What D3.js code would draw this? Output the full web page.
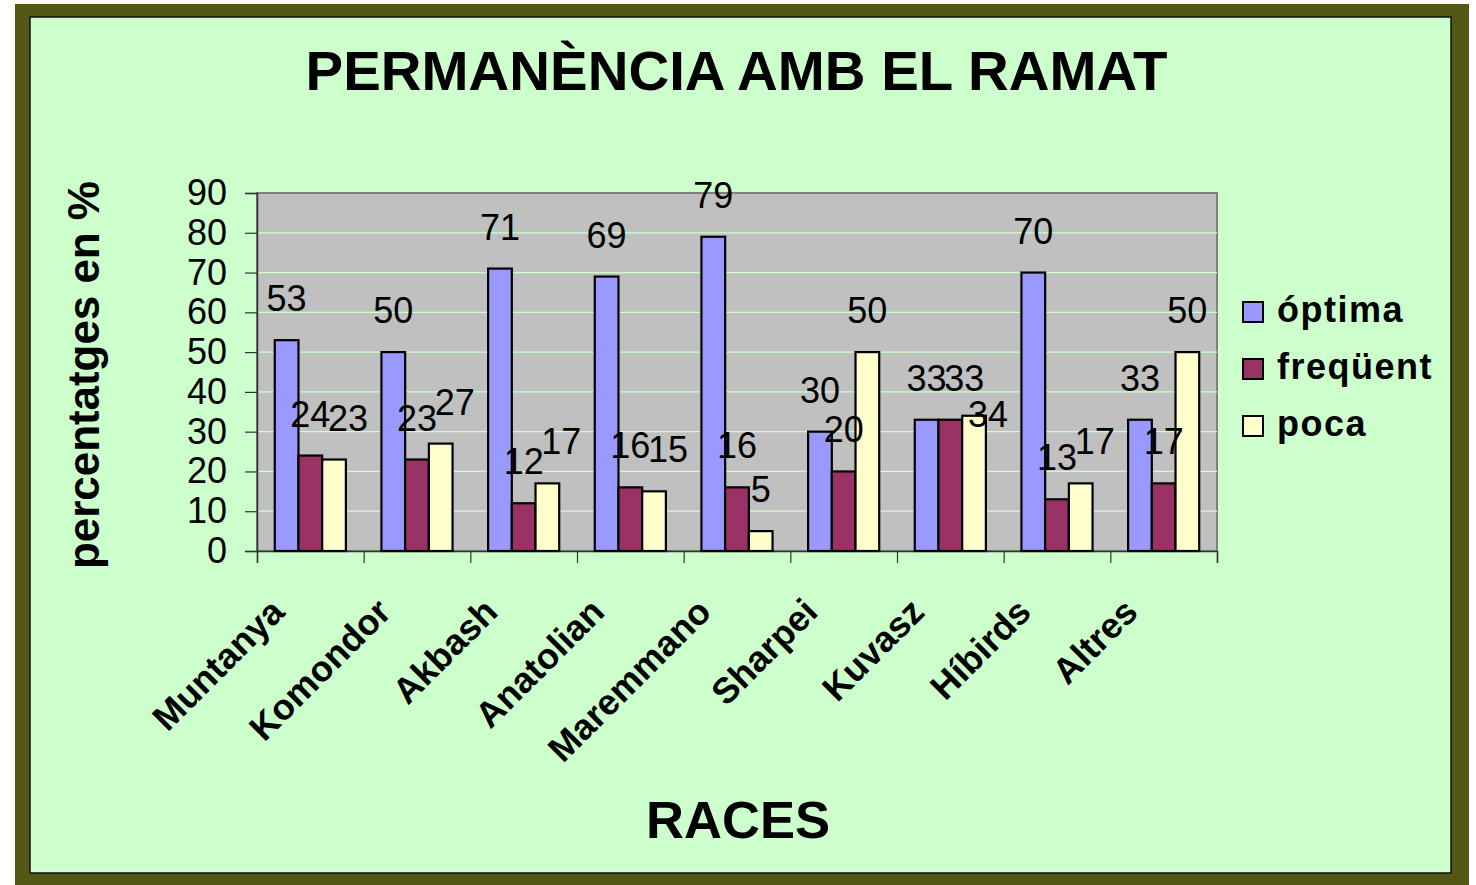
<!DOCTYPE html>
<html>
<head>
<meta charset="utf-8">
<script src="https://cdn.jsdelivr.net/npm/d3@7"></script>
<style>
  body { margin: 0; background: #ffffff; }
  svg { display: block; font-family: "Liberation Sans", Arial, sans-serif; }
</style>
</head>
<body>
<svg id="chart" width="1476" height="885"></svg>
<script>
// data
const categories = ['Muntanya', 'Komondor', 'Akbash', 'Anatolian', 'Maremmano', 'Sharpei', 'Kuvasz', 'Híbirds', 'Altres'];
const seriesNames = ['óptima', 'freqüent', 'poca'];
const optima = [53, 50, 71, 69, 79, 30, 33, 70, 33];
const frequent = [24, 23, 12, 16, 16, 20, 33, 13, 17];
const poca = [23, 27, 17, 15, 5, 50, 34, 17, 50];
const yTicks = [0, 10, 20, 30, 40, 50, 60, 70, 80, 90];
const seriesColors = ['#9999ff', '#993366', '#ffffcc'];

const series = [optima, frequent, poca];

var svg = d3.select('svg#chart');

// outer olive frame and the light green chart area
svg.append('rect')
    .attr('x', 15).attr('y', 4)
    .attr('width', 1454).attr('height', 885)
    .attr('fill', '#535915');
svg.append('rect')
    .attr('x', 30).attr('y', 17)
    .attr('width', 1421).attr('height', 856)
    .attr('fill', '#ccffcc')
    .attr('stroke', '#111')
    .attr('stroke-width', 1.5);

var plot = {left: 257, top: 193, right: 1217, bottom: 551};

var y = d3.scaleLinear()
    .domain([0, 90])
    .range([plot.bottom, plot.top]);

var x0 = d3.scaleBand()
    .domain(categories)
    .range([plot.left, plot.right])
    .paddingInner(0)
    .paddingOuter(0);

var x1 = d3.scaleBand()
    .domain(seriesNames)
    .range([0, x0.bandwidth()])
    .paddingInner(0)
    .paddingOuter(0.75);

// plot background
svg.append('rect')
    .attr('x', plot.left).attr('y', plot.top)
    .attr('width', plot.right - plot.left)
    .attr('height', plot.bottom - plot.top)
    .attr('fill', '#c0c0c0')
    .attr('stroke', '#808080')
    .attr('stroke-width', 2);

// gridlines
svg.append('g')
    .selectAll('line')
    .data(yTicks.filter(d => d > 0 && d < 90))
    .enter().append('line')
        .attr('x1', plot.left).attr('x2', plot.right)
        .attr('y1', d => y(d)).attr('y2', d => y(d))
        .attr('stroke', '#ccffcc')
        .attr('stroke-width', 1.2);

// y axis
var yAxis = svg.append('g')
    .attr('transform', 'translate(' + plot.left + ',0)')
    .call(d3.axisLeft(y).tickValues(yTicks).tickSize(12).tickPadding(18));
yAxis.select('.domain').attr('stroke', '#333').attr('stroke-width', 1.5);
yAxis.selectAll('.tick line').attr('stroke', '#333').attr('stroke-width', 1.2);
yAxis.selectAll('.tick text')
    .attr('font-size', 36)
    .attr('font-family', '"Liberation Sans", Arial, sans-serif')
    .attr('fill', '#000');

// x axis: ticks between categories
var xb = d3.scaleLinear().domain([0, categories.length]).range([plot.left, plot.right]);
var xAxis = svg.append('g')
    .attr('transform', 'translate(0,' + plot.bottom + ')')
    .call(d3.axisBottom(xb).ticks(categories.length).tickSize(12).tickFormat(''));
xAxis.select('.domain').attr('stroke', '#333').attr('stroke-width', 1.5);
xAxis.selectAll('.tick line').attr('stroke', '#333').attr('stroke-width', 1.2);

// bars
var groups = svg.selectAll('.grp')
    .data(categories)
    .enter().append('g')
        .attr('class', 'grp')
        .attr('transform', d => 'translate(' + x0(d) + ',0)');

groups.selectAll('rect')
    .data((c, i) => seriesNames.map((s, j) => ({s: s, j: j, v: series[j][i]})))
    .enter().append('rect')
        .attr('x', d => x1(d.s))
        .attr('y', d => y(d.v))
        .attr('width', x1.bandwidth())
        .attr('height', d => plot.bottom - y(d.v))
        .attr('fill', d => seriesColors[d.j])
        .attr('stroke', '#000')
        .attr('stroke-width', 2.2);

// value labels: pushed right when they hit a neighbour, then down if they still overlap
var labelH = 25;
function hits(placed, lx, ly, w) {
    return placed.filter(p => Math.abs(p.x - lx) < w && Math.abs(p.y - ly) < labelH);
}
categories.forEach(function(c, i) {
    var placed = [];
    seriesNames.forEach(function(s, j) {
        var v = series[j][i];
        var lx = x0(c) + x1(s) + x1.bandwidth() / 2;
        var ly = y(v) - 29;
        if (hits(placed, lx, ly, 40).length) {
            lx += 14;
            var still = hits(placed, lx, ly, 30);
            if (still.length) ly = d3.max(still, p => p.y) + 36;
        }
        placed.push({x: lx, y: ly});
        svg.append('text')
            .attr('x', lx)
            .attr('y', ly)
            .attr('text-anchor', 'middle')
            .attr('font-size', 36)
            .attr('fill', '#000')
            .text(v);
    });
});

// category labels
svg.append('g')
    .selectAll('text')
    .data(categories)
    .enter().append('text')
        .attr('transform', d => 'translate(' + (x0(d) + x0.bandwidth() / 2 - 24) + ',614) rotate(-45)')
        .attr('text-anchor', 'end')
        .attr('font-size', 36)
        .attr('font-weight', 'bold')
        .text(d => d);

// titles
svg.append('text')
    .attr('x', 736.5).attr('y', 90)
    .attr('text-anchor', 'middle')
    .attr('font-size', 55)
    .attr('font-weight', 'bold')
    .attr('textLength', 862)
    .attr('lengthAdjust', 'spacingAndGlyphs')
    .text('PERMANÈNCIA AMB EL RAMAT');

svg.append('text')
    .attr('x', 738).attr('y', 838)
    .attr('text-anchor', 'middle')
    .attr('font-size', 51)
    .attr('font-weight', 'bold')
    .attr('textLength', 184)
    .attr('lengthAdjust', 'spacingAndGlyphs')
    .text('RACES');

svg.append('text')
    .attr('transform', 'translate(99,375) rotate(-90)')
    .attr('text-anchor', 'middle')
    .attr('font-size', 44)
    .attr('font-weight', 'bold')
    .attr('textLength', 388)
    .attr('lengthAdjust', 'spacing')
    .text('percentatges en %');

// legend
var legend = svg.append('g')
    .selectAll('g')
    .data(seriesNames)
    .enter().append('g')
        .attr('transform', (d, i) => 'translate(1243,' + (322 + i * 57) + ')');
legend.append('rect')
    .attr('x', 0).attr('y', -20)
    .attr('width', 20).attr('height', 20)
    .attr('fill', (d, i) => seriesColors[i])
    .attr('stroke', '#000')
    .attr('stroke-width', 2);
legend.append('text')
    .attr('x', 34).attr('y', 0)
    .attr('font-size', 36)
    .attr('font-weight', 'bold')
    .attr('letter-spacing', 1.5)
    .text(d => d);
</script>
</body>
</html>
